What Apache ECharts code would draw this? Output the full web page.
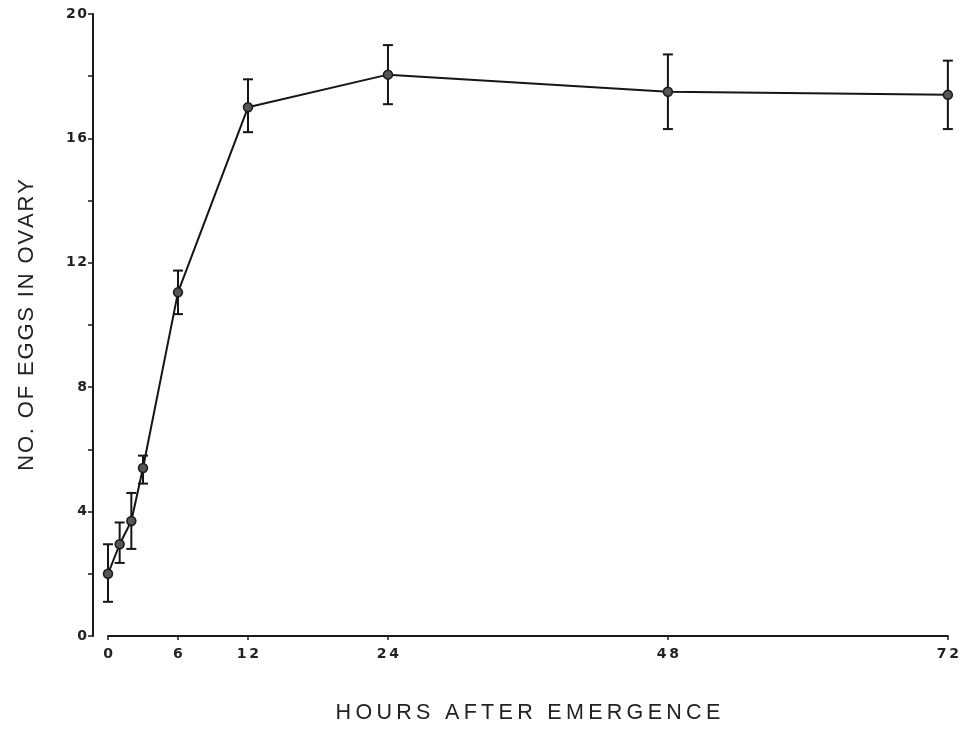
<!DOCTYPE html>
<html>
<head>
<meta charset="utf-8">
<script src="https://cdn.jsdelivr.net/npm/echarts@6/dist/echarts.min.js"></script>
<style>html,body{margin:0;padding:0;background:#fff;}#c{width:962px;height:733px;}</style>
</head>
<body>
<div id="c"></div>
<script>
var hours = [0, 1, 2, 3, 6, 12, 24, 48, 72];
var eggs = [2.0, 2.95, 3.7, 5.4, 11.05, 17.0, 18.05, 17.5, 17.4];
var errLow = [1.1, 2.35, 2.8, 4.9, 10.35, 16.2, 17.1, 16.3, 16.3];
var errHigh = [2.95, 3.65, 4.6, 5.8, 11.75, 17.9, 19.0, 18.7, 18.5];
var xTicks = [0, 6, 12, 24, 48, 72];
var yLabels = [0, 4, 8, 12, 16, 20];
var xTitle = 'HOURS AFTER EMERGENCE';
var yTitle = 'NO. OF EGGS IN OVARY';

function spaced(s, sep) { return s.split('').join(sep); }

var lineData = hours.map(function (h, i) { return [h, eggs[i]]; });
var errData = hours.map(function (h, i) { return [h, errLow[i], errHigh[i]]; });

var chart = echarts.init(document.getElementById('c'));
chart.setOption({
  animation: false,
  backgroundColor: '#ffffff',
  grid: { left: 108, right: 10, top: 14, bottom: 97, containLabel: false },
  xAxis: {
    type: 'value', min: 0, max: 72,
    name: spaced(xTitle, '\u2009'), nameLocation: 'middle', nameGap: 66,
    nameTextStyle: { fontFamily: 'Liberation Sans', fontSize: 21.5, color: '#222' },
    axisLine: { show: true, onZero: false, lineStyle: { color: '#1a1a1a', width: 2 } },
    axisTick: { show: true, customValues: xTicks, length: 4, inside: false, lineStyle: { color: '#1a1a1a', width: 1.5 } },
    axisLabel: { customValues: xTicks, margin: 11, fontFamily: 'DejaVu Sans', fontWeight: 'bold', fontSize: 14, color: '#222',
      formatter: function (v) { return spaced(String(v), '\u2009'); } },
    splitLine: { show: false }
  },
  yAxis: {
    type: 'value', min: 0, max: 20, interval: 2, offset: 15,
    name: spaced(yTitle, '\u200a'), nameLocation: 'middle', nameGap: 55, nameRotate: 90,
    nameTextStyle: { fontFamily: 'Liberation Sans', fontSize: 22, color: '#222' },
    axisLine: { show: true, onZero: false, lineStyle: { color: '#1a1a1a', width: 2 } },
    axisTick: { show: true, length: 5, lineStyle: { color: '#1a1a1a', width: 1.5 } },
    axisLabel: { customValues: yLabels, margin: 6, fontFamily: 'DejaVu Sans', fontWeight: 'bold', fontSize: 14, color: '#222',
      formatter: function (v) { return spaced(String(v), '\u200a'); } },
    splitLine: { show: false }
  },
  series: [
    {
      type: 'line', data: lineData, symbol: 'circle', symbolSize: 9,
      lineStyle: { color: '#151515', width: 2 },
      itemStyle: { color: '#555', borderColor: '#1a1a1a', borderWidth: 1.5 },
      z: 3
    },
    {
      type: 'custom', data: errData, z: 2, clip: false,
      renderItem: function (params, api) {
        var x = api.value(0);
        var lo = api.coord([x, api.value(1)]);
        var hi = api.coord([x, api.value(2)]);
        var w = 5;
        var st = { stroke: '#151515', lineWidth: 2 };
        return {
          type: 'group',
          children: [
            { type: 'line', shape: { x1: lo[0], y1: lo[1], x2: hi[0], y2: hi[1] }, style: st },
            { type: 'line', shape: { x1: lo[0] - w, y1: lo[1], x2: lo[0] + w, y2: lo[1] }, style: st },
            { type: 'line', shape: { x1: hi[0] - w, y1: hi[1], x2: hi[0] + w, y2: hi[1] }, style: st }
          ]
        };
      }
    }
  ]
});
</script>
</body>
</html>
